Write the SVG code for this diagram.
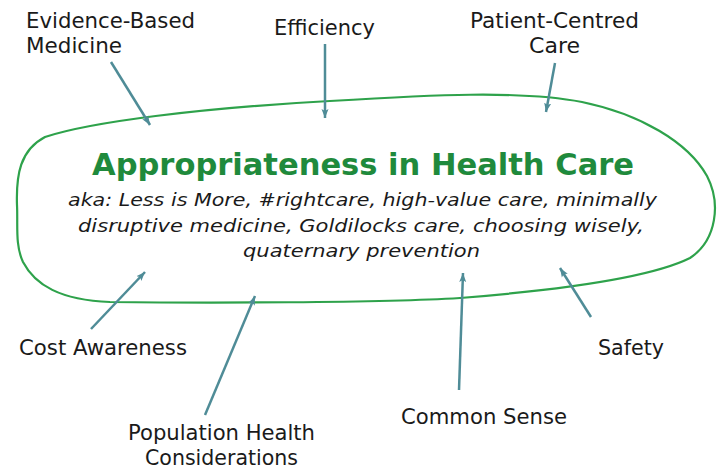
<svg xmlns="http://www.w3.org/2000/svg" width="724" height="470" viewBox="0 0 724 470">
  <style>
    .lbl { font-family: "DejaVu Sans", "Liberation Sans", sans-serif; font-size: 21px; fill: #1a1a1a; }
    .title { font-family: "DejaVu Sans", "Liberation Sans", sans-serif; font-size: 31px; font-weight: bold; fill: #1f8a3c; }
    .sub { font-family: "DejaVu Sans", "Liberation Sans", sans-serif; font-size: 18.5px; font-style: italic; fill: #1a1a1a; }
    .conn { stroke: #4f8c97; stroke-width: 2.5; fill: none; marker-end: url(#ah); }
    .blob { stroke: #2ea24b; stroke-width: 2.2; fill: none; }
  </style>
  <defs>
    <marker id="ah" markerUnits="userSpaceOnUse" markerWidth="10" markerHeight="8" refX="9" refY="4" orient="auto">
      <path d="M0,0.5 L9,4 L0,7.5 L2,4 Z" fill="#4f8c97"/>
    </marker>
  </defs>
  <rect width="724" height="470" fill="#ffffff"/>

  <g id="center">
    <path class="blob" d="M 17,205 C 16,175 20,150 45,137 C 90,122 200,108 330,101 C 430,95 520,90 582,102 C 640,114 688,142 707,176 C 721,203 717,240 690,258 C 650,278 560,290 460,298 C 380,303 200,303 110,302 C 60,300 35,285 23,262 C 15,245 18,225 17,205 Z"/>
    <text class="title" x="363" y="175" text-anchor="middle" textLength="542" lengthAdjust="spacingAndGlyphs">Appropriateness in Health Care</text>
    <text class="sub" x="362.5" y="206" text-anchor="middle" textLength="589" lengthAdjust="spacingAndGlyphs">aka: Less is More, #rightcare, high-value care, minimally</text>
    <text class="sub" x="361" y="231.5" text-anchor="middle" textLength="566" lengthAdjust="spacingAndGlyphs">disruptive medicine, Goldilocks care, choosing wisely,</text>
    <text class="sub" x="361.5" y="257" text-anchor="middle" textLength="237" lengthAdjust="spacingAndGlyphs">quaternary prevention</text>
  </g>

  <g id="evidence">
    <text class="lbl" x="26" y="28" textLength="169" lengthAdjust="spacingAndGlyphs">Evidence-Based</text>
    <text class="lbl" x="26" y="53" textLength="96" lengthAdjust="spacingAndGlyphs">Medicine</text>
  </g>
  <g id="efficiency">
    <text class="lbl" x="274" y="35" textLength="101" lengthAdjust="spacingAndGlyphs">Efficiency</text>
  </g>
  <g id="patient">
    <text class="lbl" x="470" y="28" textLength="169" lengthAdjust="spacingAndGlyphs">Patient-Centred</text>
    <text class="lbl" x="529" y="53" textLength="51" lengthAdjust="spacingAndGlyphs">Care</text>
  </g>
  <g id="cost">
    <text class="lbl" x="19" y="355" textLength="168" lengthAdjust="spacingAndGlyphs">Cost Awareness</text>
  </g>
  <g id="population">
    <text class="lbl" x="128" y="440" textLength="187" lengthAdjust="spacingAndGlyphs">Population Health</text>
    <text class="lbl" x="145" y="465" textLength="153" lengthAdjust="spacingAndGlyphs">Considerations</text>
  </g>
  <g id="common">
    <text class="lbl" x="401" y="424" textLength="166" lengthAdjust="spacingAndGlyphs">Common Sense</text>
  </g>
  <g id="safety">
    <text class="lbl" x="598" y="355" textLength="66" lengthAdjust="spacingAndGlyphs">Safety</text>
  </g>

  <g id="connectors">
    <line class="conn" x1="111" y1="62" x2="150" y2="125"/>
    <line class="conn" x1="325" y1="44" x2="325" y2="118"/>
    <line class="conn" x1="555" y1="63" x2="546" y2="112"/>
    <line class="conn" x1="91" y1="329" x2="145" y2="272"/>
    <line class="conn" x1="205" y1="415" x2="255" y2="296"/>
    <line class="conn" x1="459" y1="390" x2="463" y2="273"/>
    <line class="conn" x1="591" y1="317" x2="560" y2="268"/>
  </g>
</svg>
